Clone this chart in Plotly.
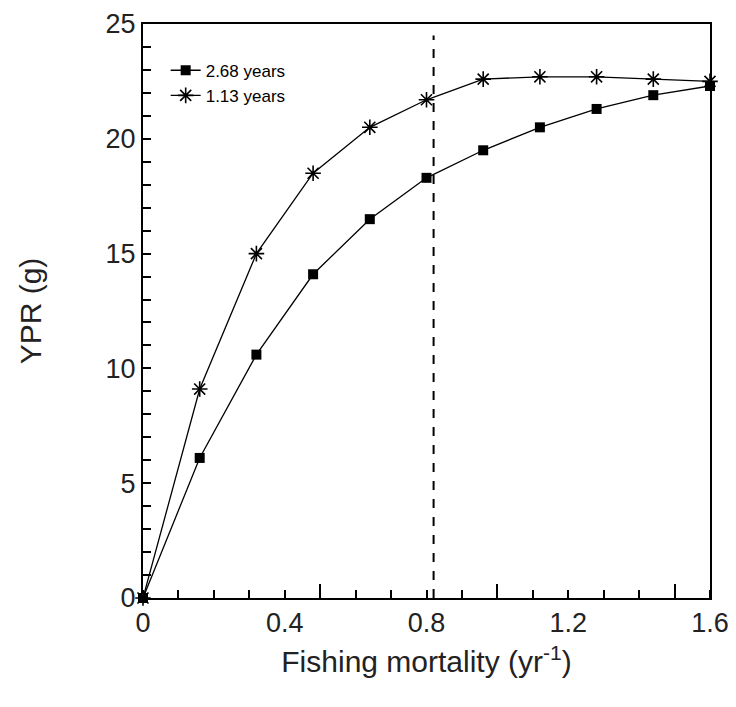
"""Yield-per-recruit curves against fishing mortality."""

import plotly.graph_objects as go

# fishing mortality (yr-1)
f_vals = [0, 0.16, 0.32, 0.48, 0.64, 0.80, 0.96, 1.12, 1.28, 1.44, 1.60]
# YPR (g) for the two ages at first capture
ypr_268 = [0, 6.1, 10.6, 14.1, 16.5, 18.3, 19.5, 20.5, 21.3, 21.9, 22.3]
ypr_113 = [0, 9.1, 15.0, 18.5, 20.5, 21.7, 22.6, 22.7, 22.7, 22.6, 22.5]
f_ref = 0.82  # dashed reference line

x_ticks = [0, 0.4, 0.8, 1.2, 1.6]
x_labels = ["0", "0.4", "0.8", "1.2", "1.6"]
x_minor = [i / 10 for i in range(17)]
x_long = [0.5, 1.0, 1.5]
y_ticks = [0, 5, 10, 15, 20, 25]

FONT = "Liberation Sans"

fig = go.Figure()

fig.add_trace(go.Scatter(
    x=f_vals, y=ypr_268, mode="lines+markers", name="2.68 years",
    line=dict(color="black", width=1.3),
    marker=dict(symbol="square", size=10, color="black"),
    cliponaxis=False,
))
fig.add_trace(go.Scatter(
    x=f_vals, y=ypr_113, mode="lines+markers", name="1.13 years",
    line=dict(color="black", width=1.3),
    marker=dict(symbol="asterisk-open", size=13, color="black",
                line=dict(color="black", width=1.6)),
    cliponaxis=False,
))
# empty trace just to bring up the overlay axis with the long ticks
fig.add_trace(go.Scatter(x=[], y=[], xaxis="x2", showlegend=False, hoverinfo="skip"))

fig.add_shape(
    type="line", x0=f_ref, x1=f_ref, y0=0, y1=24.5, xref="x", yref="y",
    line=dict(color="black", width=2, dash="dash"),
)

# page body adds ~8px, so the figure is a bit smaller than the window
fig.update_layout(
    width=728, height=699,
    margin=dict(l=135, r=26, t=16, b=109),
    plot_bgcolor="white", paper_bgcolor="white",
    font=dict(family=FONT, color="#222"),
    showlegend=True,
    legend=dict(
        x=0.04, y=0.95, xanchor="left", yanchor="top",
        font=dict(family=FONT, size=17, color="black"),
        bgcolor="rgba(0,0,0,0)", itemwidth=30, tracegroupgap=0,
    ),
    xaxis=dict(
        range=[0, 1.6], tickmode="array", tickvals=x_ticks, ticktext=x_labels,
        ticks="", ticklen=0, showgrid=False, zeroline=False, automargin=False,
        ticklabeloverflow="allow",
        showline=True, linecolor="black", linewidth=2, mirror=True,
        tickfont=dict(size=27, color="#222"),
        minor=dict(tickmode="array", tickvals=x_minor, ticks="inside",
                   ticklen=8, tickcolor="black", tickwidth=1.5, showgrid=False),
        title=dict(text="Fishing mortality (yr<sup>-1</sup>)",
                   font=dict(size=30, color="#222"), standoff=14),
    ),
    xaxis2=dict(
        range=[0, 1.6], overlaying="x", anchor="y", side="bottom",
        tickmode="array", tickvals=x_long, showticklabels=False, automargin=False,
        ticks="inside", ticklen=14, tickcolor="black", tickwidth=1.5,
        showgrid=False, zeroline=False, showline=False,
    ),
    yaxis=dict(
        range=[0, 25], tickmode="array", tickvals=y_ticks, automargin=False,
        ticklabeloverflow="allow",
        ticks="inside", ticklen=8, tickcolor="black", tickwidth=1.5,
        showgrid=False, zeroline=False,
        showline=True, linecolor="black", linewidth=2, mirror=True,
        tickfont=dict(size=27, color="#222"),
        minor=dict(dtick=1, ticks="inside", ticklen=8, tickcolor="black",
                   tickwidth=1.5, showgrid=False),
        title=dict(text="YPR (g)", font=dict(size=30, color="#222"), standoff=55),
    ),
)

fig.write_html("out.html")
